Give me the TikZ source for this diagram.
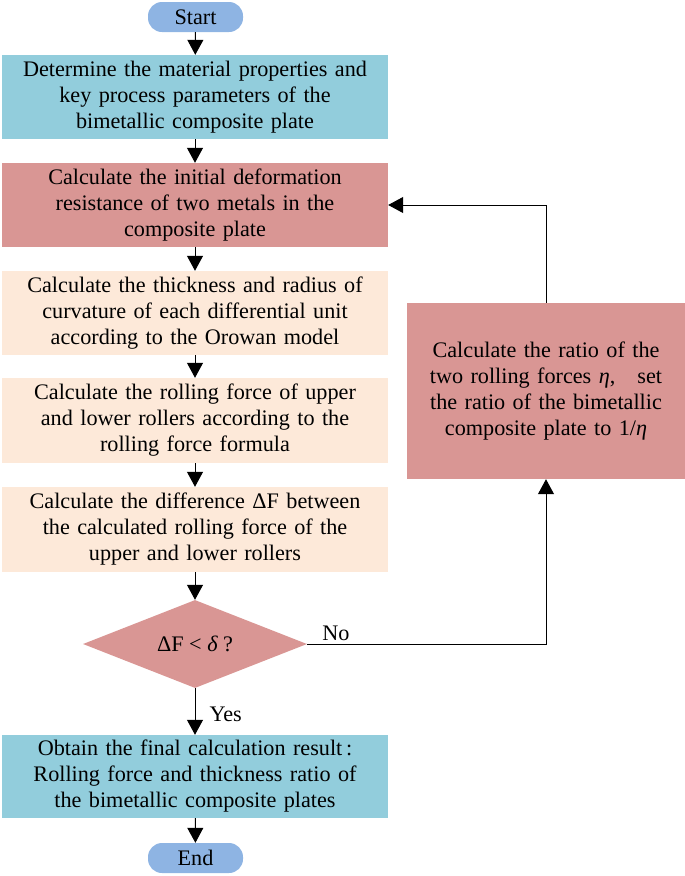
\documentclass[tikz,border=0pt]{standalone}
\usepackage{fontspec}
\setmainfont{Liberation Serif}
\usetikzlibrary{shapes.geometric,arrows.meta}
\definecolor{cblue}{HTML}{92CDDC}
\definecolor{cred}{HTML}{D99694}
\definecolor{cpeach}{HTML}{FDE9D9}
\definecolor{cpill}{HTML}{8EB4E3}
\tikzset{
  base/.style={font=\fontsize{22.2}{26}\selectfont, align=center, inner sep=0pt},
  stepbox/.style={base, rectangle, minimum width=386pt, text width=380pt},
  pill/.style={base, rectangle, rounded corners=14pt, fill=cpill, minimum width=95pt, minimum height=30pt},
  decision/.style={base, diamond, fill=cred, minimum width=224pt, minimum height=88pt, aspect=2.5},
  arr/.style={line width=1pt, -{Triangle[width=16pt,length=15pt]}},
  lbl/.style={font=\fontsize{22.2}{26}\selectfont, inner sep=0pt}
}
\begin{document}
\begin{tikzpicture}[x=1pt,y=-1pt]
\useasboundingbox (0,0) rectangle (685,876);
\node[pill] (start) at (195.5,17) {Start};
\node[stepbox, fill=cblue, minimum height=84pt] (b1) at (195,97) {Determine the material properties and\\key process parameters of the\\bimetallic composite plate};
\node[stepbox, fill=cred, minimum height=84pt] (b2) at (195,205) {Calculate the initial deformation\\resistance of two metals in the\\composite plate};
\node[stepbox, fill=cpeach, minimum height=84pt] (b3) at (195,313) {Calculate the thickness and radius of\\curvature of each differential unit\\according to the Orowan model};
\node[stepbox, fill=cpeach, minimum height=85pt] (b4) at (195,420.5) {Calculate the rolling force of upper\\and lower rollers according to the\\rolling force formula};
\node[stepbox, fill=cpeach, minimum height=85pt] (b5) at (195,529.5) {Calculate the difference ΔF between\\the calculated rolling force of the\\upper and lower rollers};
\node[decision] (d) at (195,644) {ΔF < {\itshape δ} ?};
\node[stepbox, fill=cblue, minimum height=83pt] (b6) at (195,776.5) {Obtain the final calculation result\,:\\Rolling force and thickness ratio of\\the bimetallic composite plates};
\node[pill] (end) at (195.5,858) {End};
\node[base, rectangle, fill=cred, minimum width=278pt, minimum height=176pt, text width=270pt] (r) at (546,391) {Calculate the ratio of the\\two rolling forces {\itshape η},\ \ \ set\\the ratio of the bimetallic\\composite plate to 1/{\itshape η}};
\coordinate (c1) at (546,205);
\coordinate (c2) at (546,644);
\draw[arr] (start) -- (b1);
\draw[arr] (b1) -- (b2);
\draw[arr] (b2) -- (b3);
\draw[arr] (b3) -- (b4);
\draw[arr] (b4) -- (b5);
\draw[arr] (b5) -- (d);
\draw[arr] (d) -- node[lbl, right=14pt, pos=0.55] {Yes} (b6);
\draw[arr] (b6) -- (end);
\draw[arr] (d.east) -- node[lbl, above, pos=0.12, yshift=3pt] {No} (c2) -- (r.south);
\draw[arr] (r.north) -- (c1) -- (b2.east);
\end{tikzpicture}
\end{document}
